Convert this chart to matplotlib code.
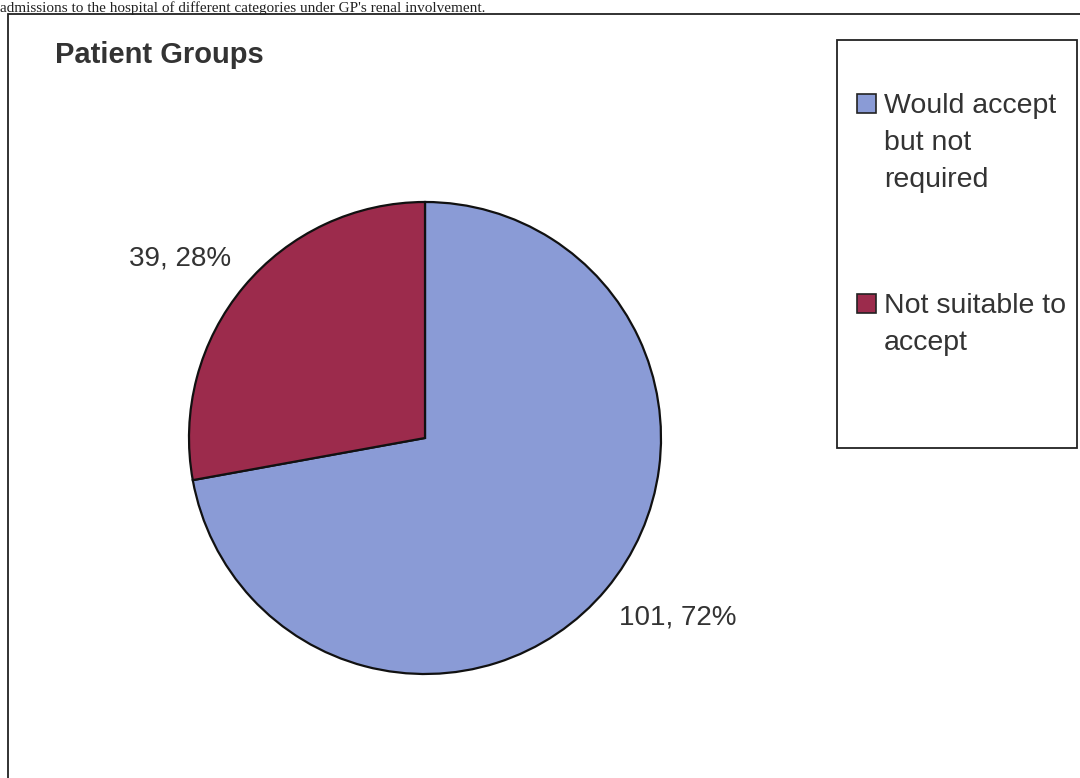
import numpy as np
import matplotlib
matplotlib.use('Agg')
import matplotlib.pyplot as plt
from matplotlib.patches import Rectangle

# patient groups and their counts
groups = ['Would accept but not required', 'Not suitable to accept']
legend_lines = ['Would accept\nbut not\nrequired', 'Not suitable to\naccept']
counts = [101, 39]
colors = ['#8a9bd6', '#9c2b4c']
title = 'Patient Groups'

W, H = 1080, 778
fig = plt.figure(figsize=(W / 100, H / 100), dpi=100)
fig.patch.set_facecolor('white')
plt.rcParams['font.family'] = ['Liberation Sans', 'DejaVu Sans']

# line of document text running above the chart
fig.text(0.0, 1 - 1 / H,
         "admissions to the hospital of different categories under GP's renal involvement.",
         family='Liberation Serif', fontsize=11, color='#222222',
         ha='left', va='top')

# outer chart frame
fig.patches.append(Rectangle((8 / W, -0.05), 1.2, 1 - 14 / H + 0.05,
                             transform=fig.transFigure, fill=False,
                             edgecolor='#222222', linewidth=1.3))

fig.text(55 / W, 1 - 63 / H, title, fontsize=21, fontweight='bold',
         color='#333333', ha='left', va='baseline')

# pie, centred at (425, 438) px with radius 236 px
cx, cy, r = 425, 438, 236
ax = fig.add_axes([(cx - r) / W, (H - cy - r) / H, 2 * r / W, 2 * r / H])
wedges, _ = ax.pie(counts, colors=colors, startangle=90, counterclock=False,
                   wedgeprops=dict(edgecolor='#111111', linewidth=1.6))
ax.set_xlim(-1, 1)
ax.set_ylim(-1, 1)
ax.set_aspect('equal')
ax.axis('off')

# value labels just outside each wedge
total = sum(counts)
for w, n in zip(wedges, counts):
    mid = np.deg2rad((w.theta1 + w.theta2) / 2 - 3)
    x, y = 1.12 * np.cos(mid), 1.12 * np.sin(mid)
    ax.text(x, y, f'{n}, {round(100 * n / total)}%', fontsize=20,
            color='#333333', ha='left' if x > 0 else 'right', va='center',
            clip_on=False)

# legend box
fig.patches.append(Rectangle((837 / W, 1 - 448 / H), (1077 - 837) / W,
                             (448 - 40) / H, transform=fig.transFigure,
                             fill=False, edgecolor='#222222', linewidth=1.3))
text_tops = [93, 293]
for top, label, c in zip(text_tops, legend_lines, colors):
    sq_mid = top + 10
    fig.patches.append(Rectangle((857 / W, 1 - (sq_mid + 9.5) / H), 19 / W, 19 / H,
                                 transform=fig.transFigure, facecolor=c,
                                 edgecolor='#222222', linewidth=1.2))
    fig.text(884 / W, 1 - top / H, label, fontsize=20.5, color='#333333',
             ha='left', va='top', linespacing=1.56)

fig.savefig('out.png', dpi=100)
